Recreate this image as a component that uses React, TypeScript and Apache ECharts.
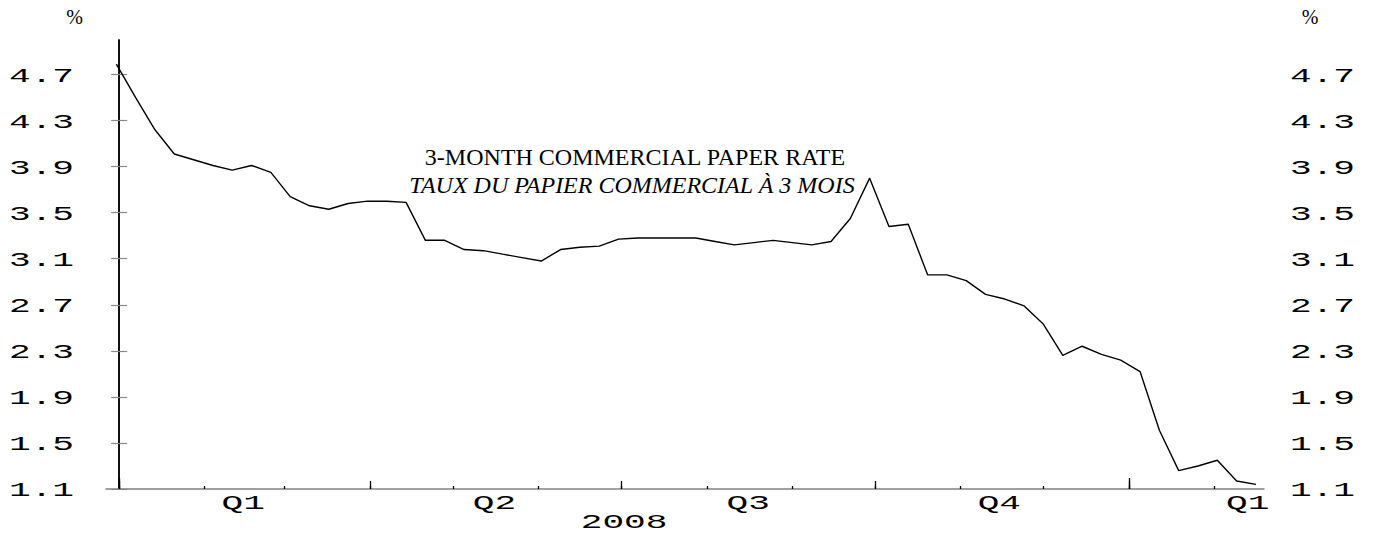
import React, { useEffect, useRef } from 'react';
import * as echarts from 'echarts';

// Weekly 3-month commercial paper rate (%), first week starting 2007-12-31
const firstWeek = '2007-12-31';
const rates = [
  4.79, 4.50, 4.22, 4.01, 3.96, 3.91, 3.87, 3.91, 3.85, 3.64,
  3.56, 3.53, 3.58, 3.60, 3.60, 3.59, 3.26, 3.26, 3.18, 3.17,
  3.14, 3.11, 3.08, 3.18, 3.20, 3.21, 3.27, 3.28, 3.28, 3.28,
  3.28, 3.25, 3.22, 3.24, 3.26, 3.24, 3.22, 3.25, 3.45, 3.80,
  3.38, 3.40, 2.96, 2.96, 2.91, 2.79, 2.75, 2.69, 2.53, 2.26,
  2.34, 2.27, 2.22, 2.12, 1.61, 1.26, 1.30, 1.35, 1.17, 1.14,
];

const yTickValues = [1.1, 1.5, 1.9, 2.3, 2.7, 3.1, 3.5, 3.9, 4.3, 4.7];
const yTickLabels = ['1.1', '1.5', '1.9', '2.3', '2.7', '3.1', '3.5', '3.9', '4.3', '4.7'];
const yMin = 1.1;
const yMax = 5.0;

const xStart = '2007-12-27T06';
const xEnd = '2009-02-18T22';

const monthTicks = [
  '2008-01-01', '2008-02-01', '2008-03-01', '2008-04-01', '2008-05-01', '2008-06-01', '2008-07-01',
  '2008-08-01', '2008-09-01', '2008-10-01', '2008-11-01', '2008-12-01', '2009-01-01', '2009-02-01',
];
const quarterTicks = ['2008-01-01', '2008-04-01', '2008-07-01', '2008-10-01', '2009-01-01'];
const yearTicks = ['2008-01-01', '2009-01-01'];

const quarterLabelDates = ['2008-02-15', '2008-05-16', '2008-08-16', '2008-11-15', '2009-02-13'];
const quarterLabels = ['Q1', 'Q2', 'Q3', 'Q4', 'Q1'];
const yearLabelDates = ['2008-07-02'];
const yearLabels = ['2008'];

const titleEn = '3-MONTH COMMERCIAL PAPER RATE';
const titleFr = 'TAUX DU PAPIER COMMERCIAL À 3 MOIS';
const unitLabel = '%';

const DAY = 86400000;

// date -> days since 2008-01-01 (UTC)
function toDay(s: string): number {
  const [d, h] = s.split('T');
  const [y, m, day] = d.split('-').map(Number);
  return (Date.UTC(y, m - 1, day, h ? Number(h) : 0) - Date.UTC(2008, 0, 1)) / DAY;
}

const LABEL_FONT = 'Liberation Mono';
const LABEL_SIZE = 21;
const LABEL_STRETCH = 1.72;

function axisText(text: string, x: number, y: number, align: 'left' | 'right' | 'center') {
  return {
    type: 'text',
    x,
    y,
    scaleX: LABEL_STRETCH,
    silent: true,
    style: {
      text,
      align,
      verticalAlign: 'middle',
      fontFamily: LABEL_FONT,
      fontSize: LABEL_SIZE,
      fill: '#000',
    },
  };
}

function serifText(text: string, x: number, y: number, size: number, italic = false) {
  return {
    type: 'text',
    x,
    y,
    silent: true,
    style: {
      text,
      align: 'center',
      verticalAlign: 'middle',
      fontFamily: 'Liberation Serif',
      fontStyle: italic ? 'italic' : 'normal',
      fontSize: size,
      fill: '#000',
    },
  };
}

export default function App() {
  const ref = useRef<HTMLDivElement>(null);

  useEffect(() => {
    if (!ref.current) return;
    const chart = echarts.init(ref.current, undefined, { renderer: 'svg' });
    const start = toDay(firstWeek);
    const seriesData = rates.map((r, i) => [start + i * 7, r]);
    const xMin = toDay(xStart);
    const xMax = toDay(xEnd);

    const baseX = {
      type: 'value' as const,
      min: xMin,
      max: xMax,
      position: 'bottom' as const,
      splitLine: { show: false },
      axisLabel: { show: false },
    };

    const yAxisBase = (pos: 'left' | 'right') => ({
      type: 'value' as const,
      position: pos,
      min: yMin,
      max: yMax,
      splitLine: { show: false },
      axisLine: { show: true, lineStyle: { color: '#000', width: 1.5 } },
      axisTick: {
        show: true,
        inside: true,
        length: 8,
        customValues: yTickValues,
        lineStyle: { color: '#888', width: 1.2 },
      },
      axisLabel: { show: false },
    });

    chart.setOption({
      animation: false,
      backgroundColor: '#fff',
      grid: { left: 106, right: 109, top: 40, bottom: 49, containLabel: false },
      xAxis: [
        {
          ...baseX,
          axisLine: { show: true, lineStyle: { color: '#808080', width: 1.5 } },
          axisTick: {
            show: true,
            inside: true,
            length: 3,
            customValues: monthTicks.map(toDay),
            lineStyle: { color: '#000', width: 1.3 },
          },
        },
        {
          ...baseX,
          axisLine: { show: false },
          axisTick: {
            show: true,
            inside: true,
            length: 8,
            customValues: quarterTicks.map(toDay),
            lineStyle: { color: '#000', width: 1.3 },
          },
        },
        {
          ...baseX,
          axisLine: { show: false },
          axisTick: {
            show: true,
            inside: true,
            length: 11,
            customValues: yearTicks.map(toDay),
            lineStyle: { color: '#000', width: 1.3 },
          },
        },
      ],
      yAxis: [yAxisBase('left'), yAxisBase('right')],
      series: [
        {
          type: 'line',
          xAxisIndex: 0,
          yAxisIndex: 0,
          data: seriesData,
          symbol: 'none',
          lineStyle: { color: '#000', width: 1.4 },
        },
      ],
    });

    // Tick labels placed with the library's own axis scales
    const leftX = chart.convertToPixel({ xAxisIndex: 0 }, xMin) as number;
    const rightX = chart.convertToPixel({ xAxisIndex: 0 }, xMax) as number;
    const baseY = chart.convertToPixel({ yAxisIndex: 0 }, yMin) as number;
    const topY = chart.convertToPixel({ yAxisIndex: 0 }, yMax) as number;

    const els: any[] = [];
    yTickValues.forEach((v, i) => {
      const py = (chart.convertToPixel({ yAxisIndex: 0 }, v) as number) + 1.5;
      els.push(axisText(yTickLabels[i], leftX - 32, py, 'right'));
      els.push(axisText(yTickLabels[i], rightX + 26, py, 'left'));
    });
    quarterLabelDates.forEach((d, i) => {
      const px = chart.convertToPixel({ xAxisIndex: 0 }, toDay(d)) as number;
      els.push(axisText(quarterLabels[i], px, baseY + 14.5, 'center'));
    });
    yearLabelDates.forEach((d, i) => {
      const px = chart.convertToPixel({ xAxisIndex: 0 }, toDay(d)) as number;
      els.push(axisText(yearLabels[i], px, baseY + 33.5, 'center'));
    });
    els.push(serifText(unitLabel, leftX - 31.5, topY - 23.5, 20));
    els.push(serifText(unitLabel, rightX + 46, topY - 23.5, 20));
    els.push(serifText(titleEn, 635, 157, 24));
    els.push(serifText(titleFr, 632, 185, 24, true));

    chart.setOption({ graphic: els });

    return () => chart.dispose();
  }, []);

  return (
    <div
      ref={ref}
      style={{ position: 'fixed', left: 0, top: 0, width: 1373, height: 538, background: '#fff' }}
    />
  );
}
